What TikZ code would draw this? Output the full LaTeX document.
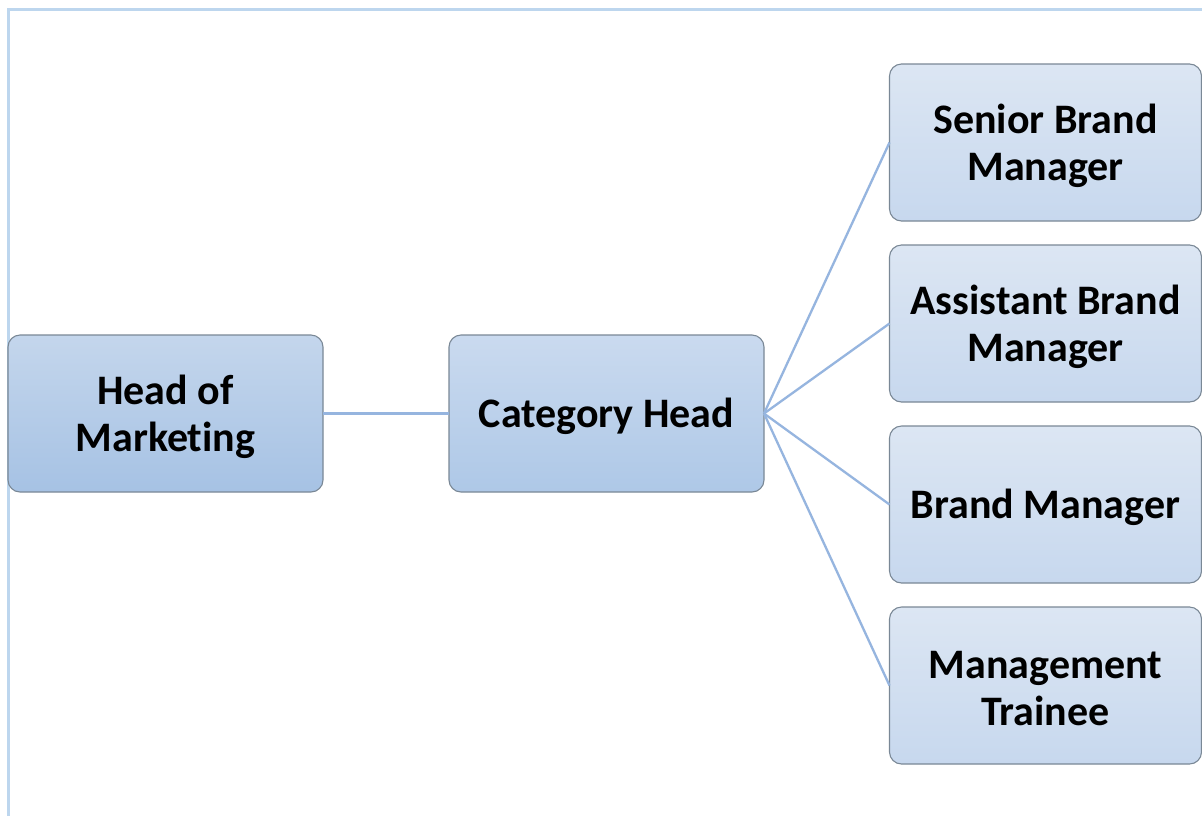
\documentclass[tikz,border=0pt]{standalone}
\usepackage{fontspec}
\setmainfont[Ligatures=NoCommon]{Carlito}
\begin{document}
\begin{tikzpicture}[x=1pt,y=-1pt,
  every node/.style={inner sep=0pt, outer sep=0pt},
  box/.style={draw=boxedge, line width=1.1pt, rounded corners=12pt,
    minimum width=315pt, minimum height=157pt,
    align=center, font=\fontsize{42}{47}\selectfont\bfseries},
  deepbox/.style={box, top color=deeptop, bottom color=deepbot},
  midbox/.style={box, top color=midtop, bottom color=midbot},
  palebox/.style={box, top color=paletop, bottom color=palebot, minimum width=312pt},
  link/.style={draw=linkblue, line width=2.3pt}]
  \definecolor{boxedge}{HTML}{7A8896}
  \definecolor{deeptop}{HTML}{C4D6EC}
  \definecolor{deepbot}{HTML}{A6C2E4}
  \definecolor{midtop}{HTML}{CADAEF}
  \definecolor{midbot}{HTML}{AEC8E7}
  \definecolor{paletop}{HTML}{DCE6F3}
  \definecolor{palebot}{HTML}{C7D8EE}
  \definecolor{linkblue}{HTML}{96B5DF}
  \definecolor{frameblue}{HTML}{BDD6EE}

  \useasboundingbox (0,0) rectangle (1202,815);
  \fill[white] (0,0) rectangle (1202,815);

  % page frame
  \draw[frameblue, line width=2.5pt] (8.5,816) -- (8.5,9.5) -- (1203,9.5);

  % nodes
  \node[deepbox] (hom) at (165.5,413.5) {};
  \node[midbox] (cat) at (606.5,413.5) {};
  \node[palebox] (sbm) at (1045.5,142.5) {};
  \node[palebox] (abm) at (1045.5,323.5) {};
  \node[palebox] (bm)  at (1045.5,504.5) {};
  \node[palebox] (mt)  at (1045.5,685.5) {};

  % labels, centred a little below the box middle
  \node[font=\fontsize{42}{47}\selectfont\bfseries, align=center] (homt) at ([yshift=-3pt]hom.center) {Head of\\Marketing};
  \node[font=\fontsize{42}{47}\selectfont\bfseries, align=center] (catt) at ([yshift=-3pt]cat.center) {Category Head};
  \node[font=\fontsize{42}{47}\selectfont\bfseries, align=center] (sbmt) at ([yshift=-3pt]sbm.center) {Senior Brand\\Manager};
  \node[font=\fontsize{42}{47}\selectfont\bfseries, align=center] (abmt) at ([yshift=-3pt]abm.center) {Assistant Brand\\Manager};
  \node[font=\fontsize{42}{47}\selectfont\bfseries, align=center] (bmt)  at ([yshift=-3pt]bm.center) {Brand Manager};
  \node[font=\fontsize{42}{47}\selectfont\bfseries, align=center] (mtt)  at ([yshift=-3pt]mt.center) {Management\\Trainee};

  % connectors
  \draw[link] (hom.east) -- (cat.west);
  \draw[link] (cat.east) -- (sbm.west);
  \draw[link] (cat.east) -- (abm.west);
  \draw[link] (cat.east) -- (bm.west);
  \draw[link] (cat.east) -- (mt.west);
\end{tikzpicture}
\end{document}
